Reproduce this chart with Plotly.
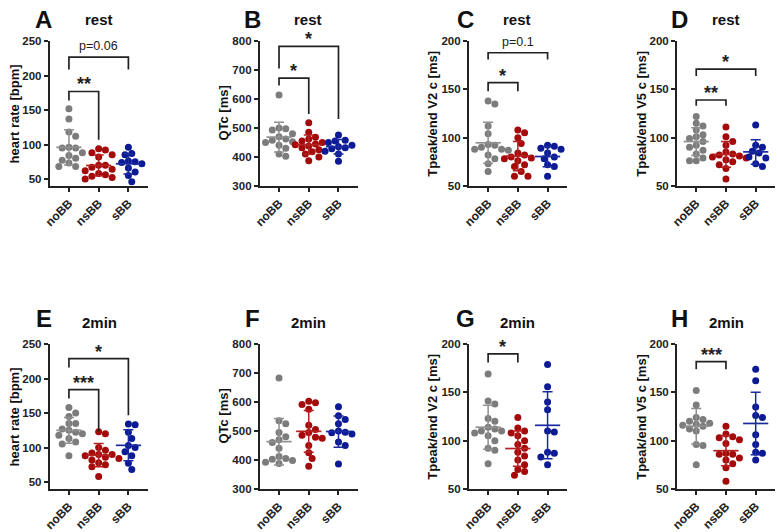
import plotly.graph_objects as go
import numpy as np

groups = ["noBB", "nsBB", "sBB"]
dot_colors = ["#7c7c7c", "#a50a0a", "#0c1a94"]
bar_colors = ["#8f8f8f", "#b52020", "#1a2aa0"]

# ---- Panel A: heart rate, rest
A_noBB = [152, 137, 118, 112, 96, 95, 95, 88, 84, 80, 77, 73, 68, 68]
A_nsBB = [94, 92, 88, 85, 82, 70, 70, 67, 64, 62, 58, 56, 54, 52, 50]
A_sBB = [96, 87, 85, 76, 75, 74, 72, 66, 60, 55, 46]
# ---- Panel B: QTc, rest
B_noBB = [614, 500, 497, 493, 480, 470, 462, 458, 452, 450, 440, 430, 410, 402]
B_nsBB = [518, 485, 468, 462, 455, 450, 445, 442, 438, 432, 425, 418, 410, 400, 387]
B_sBB = [476, 458, 455, 450, 440, 435, 432, 428, 420, 410, 385]
# ---- Panel C: Tpeak/end V2 c, rest
C_noBB = [138, 135, 112, 104, 93, 92, 90, 88, 88, 87, 82, 78, 73, 65]
C_nsBB = [108, 105, 100, 94, 84, 82, 80, 79, 78, 76, 72, 70, 65, 60, 60]
C_sBB = [92, 91, 89, 88, 84, 80, 78, 72, 70, 60]
# ---- Panel D: Tpeak/end V5 c, rest
D_noBB = [122, 115, 112, 108, 103, 101, 99, 96, 92, 90, 87, 83, 79, 76, 76]
D_nsBB = [111, 101, 96, 92, 85, 83, 82, 81, 80, 79, 77, 75, 72, 68, 57]
D_sBB = [113, 92, 90, 86, 84, 80, 79, 73, 70]
# ---- Panel E: heart rate, 2min
E_noBB = [158, 150, 145, 135, 135, 125, 127, 122, 120, 118, 113, 108, 105, 88]
E_nsBB = [123, 120, 100, 96, 92, 90, 90, 88, 86, 84, 82, 78, 75, 72, 58]
E_sBB = [134, 133, 122, 113, 103, 100, 94, 88, 77, 68]
# ---- Panel F: QTc, 2min
F_noBB = [683, 535, 525, 495, 480, 470, 460, 440, 412, 405, 402, 398, 392, 388]
F_nsBB = [603, 598, 592, 575, 520, 505, 495, 485, 478, 475, 450, 425, 405, 378]
F_sBB = [584, 553, 540, 525, 500, 496, 494, 490, 462, 450, 386]
# ---- Panel G: Tpeak/end V2 c, 2min
G_noBB = [169, 141, 138, 123, 120, 114, 112, 110, 110, 108, 105, 100, 92, 90, 76]
G_nsBB = [124, 113, 110, 108, 105, 100, 96, 92, 88, 84, 80, 75, 70, 68, 64]
G_sBB = [179, 156, 140, 132, 110, 109, 88, 87, 83, 75]
# ---- Panel H: Tpeak/end V5 c, 2min
H_noBB = [152, 137, 124, 122, 120, 118, 117, 116, 115, 112, 110, 96, 95, 75]
H_nsBB = [115, 107, 104, 103, 101, 97, 86, 87, 86, 82, 80, 76, 72, 58]
H_sBB = [174, 162, 135, 126, 124, 106, 96, 88, 87, 80]

letters = ["A", "B", "C", "D", "E", "F", "G", "H"]
conditions = ["rest", "rest", "rest", "rest", "2min", "2min", "2min", "2min"]
ytitles = ["heart rate [bpm]", "QTc [ms]", "Tpeak/end V2 c [ms]", "Tpeak/end V5 c [ms]"] * 2
yranges = [[40, 250], [300, 800], [50, 200], [50, 200]] * 2
yticks = [[50, 100, 150, 200, 250], [300, 400, 500, 600, 700, 800],
          [50, 100, 150, 200], [50, 100, 150, 200]] * 2

# significance brackets: (group_i, group_j, top, left_end, right_end, label)
brackets = [
    [(0, 1, 177, 164, 107, "**"), (0, 2, 227, 209, 209, "p=0.06")],
    [(0, 1, 672, 647, 548, "*"), (0, 2, 782, 706, 531, "*")],
    [(0, 1, 157, 148, 148, "*"), (0, 2, 188, 181, 181, "p=0.1")],
    [(0, 1, 139, 133, 133, "**"), (0, 2, 171, 164, 164, "*")],
    [(0, 1, 184, 171, 123, "***"), (0, 2, 229, 216, 147, "*")],
    [],
    [(0, 1, 190, 181, 181, "*")],
    [(0, 1, 182, 174, 174, "***")],
]

data = [
    [A_noBB, A_nsBB, A_sBB], [B_noBB, B_nsBB, B_sBB], [C_noBB, C_nsBB, C_sBB], [D_noBB, D_nsBB, D_sBB],
    [E_noBB, E_nsBB, E_sBB], [F_noBB, F_nsBB, F_sBB], [G_noBB, G_nsBB, G_sBB], [H_noBB, H_nsBB, H_sBB],
]

W, H = 777, 532
col_x = [43, 255, 466, 676]
col_w = 99
row_top = [36, 346]
row_h = 148
XR = [-0.65, 2.65]
FONT = "Liberation Sans, Arial, sans-serif"


def swarm(vals, ppu_y, ppu_x, d=6.8):
    order = sorted(range(len(vals)), key=lambda k: -vals[k])
    placed = []
    offs = [0.0] * len(vals)
    cands = [0.0]
    for m in range(1, 14):
        cands += [m * d * 0.5, -m * d * 0.5]
    for k in order:
        y = vals[k] * ppu_y
        for c in cands:
            if all((c - xp) ** 2 + (y - yp) ** 2 >= d ** 2 for xp, yp in placed):
                break
        placed.append((c, y))
        offs[k] = c / ppu_x
    return offs


fig = go.Figure()
annotations = []
shapes = []
layout = {}

for p in range(8):
    r, c = divmod(p, 4)
    ax = "" if p == 0 else str(p + 1)
    xa, ya = "x" + ax, "y" + ax
    x0 = col_x[c]
    top = row_top[r]
    xdom = [x0 / W, (x0 + col_w) / W]
    ydom = [1 - (top + row_h) / H, 1 - top / H]
    yr = yranges[p]
    ppu_y = row_h / (yr[1] - yr[0])
    ppu_x = col_w / (XR[1] - XR[0])

    layout["xaxis" + ax] = dict(
        domain=xdom, anchor=ya, range=XR, tickvals=[0, 1, 2], ticktext=groups,
        tickangle=-45, showline=True, linecolor="#222", linewidth=1.7, ticks="outside",
        ticklen=4, tickwidth=1.6, tickcolor="#222", showgrid=False, zeroline=False,
        tickfont=dict(family=FONT, size=12, color="#222", weight=700), fixedrange=True)
    layout["yaxis" + ax] = dict(
        domain=ydom, anchor=xa, range=yr, tickvals=yticks[p],
        showline=True, linecolor="#222", linewidth=1.7, ticks="outside",
        ticklen=4, tickwidth=1.6, tickcolor="#222", showgrid=False, zeroline=False,
        tickfont=dict(family=FONT, size=11.5, color="#222", weight=700), fixedrange=True)

    for g in range(3):
        vals = data[p][g]
        offs = swarm(vals, ppu_y, ppu_x)
        fig.add_trace(go.Scatter(
            x=[g + o for o in offs], y=vals, mode="markers", xaxis=xa, yaxis=ya,
            marker=dict(size=7, color=dot_colors[g], line=dict(width=0)),
            showlegend=False, cliponaxis=False, hoverinfo="y"))
    for g in range(3):
        vals = np.array(data[p][g], dtype=float)
        mean, sd = vals.mean(), vals.std(ddof=1)
        fig.add_trace(go.Scatter(
            x=[g], y=[mean], mode="markers", xaxis=xa, yaxis=ya,
            marker=dict(symbol="line-ew", size=18, line=dict(width=1.7, color=bar_colors[g])),
            error_y=dict(type="data", array=[sd], visible=True, width=5,
                         thickness=1.5, color=bar_colors[g]),
            showlegend=False, cliponaxis=False, hoverinfo="skip"))

    # brackets
    for (i, j, ytop, yl, yrr, lab) in brackets[p]:
        shapes.append(dict(type="path", xref=xa, yref=ya,
                           path=f"M {i},{yl} L {i},{ytop} L {j},{ytop} L {j},{yrr}",
                           line=dict(color="#222", width=1.7)))
        if lab.startswith("p"):
            annotations.append(dict(xref=xa, yref=ya, x=(i + j) / 2, y=ytop, text=lab,
                                    showarrow=False, yanchor="bottom", yshift=2,
                                    font=dict(family=FONT, size=12.5, color="#222")))
        else:
            annotations.append(dict(xref=xa, yref=ya, x=(i + j) / 2, y=ytop, text=lab,
                                    showarrow=False, yanchor="bottom", yshift=-5,
                                    font=dict(family=FONT, size=18, color="#222", weight=700)))

    # panel letter and condition
    letter_x = [37, 248, 463, 679][c]
    cond_x = [93, 304, 515, 726][c]
    ly = [14, 320][r]
    cy = [14, 324][r]
    annotations.append(dict(xref="paper", yref="paper", x=letter_x / W, y=1 - ly / H, text=letters[p],
                            showarrow=False, xanchor="center", yanchor="middle",
                            font=dict(family=FONT, size=24, color="#111", weight=700)))
    annotations.append(dict(xref="paper", yref="paper", x=cond_x / W, y=1 - cy / H, text=conditions[p],
                            showarrow=False, xanchor="center", yanchor="middle",
                            font=dict(family=FONT, size=15, color="#111", weight=700)))
    # y-axis title
    tx = [8, 218, 429, 640][c]
    annotations.append(dict(xref="paper", yref="paper", x=tx / W, y=1 - (top + row_h / 2) / H,
                            text=ytitles[p], textangle=-90, showarrow=False,
                            xanchor="center", yanchor="middle",
                            font=dict(family=FONT, size=13, color="#111", weight=700)))

fig.update_layout(
    width=W, height=H, margin=dict(l=0, r=0, t=0, b=0),
    paper_bgcolor="white", plot_bgcolor="white",
    annotations=annotations, shapes=shapes, showlegend=False, **layout)

fig.write_html("out.html")
